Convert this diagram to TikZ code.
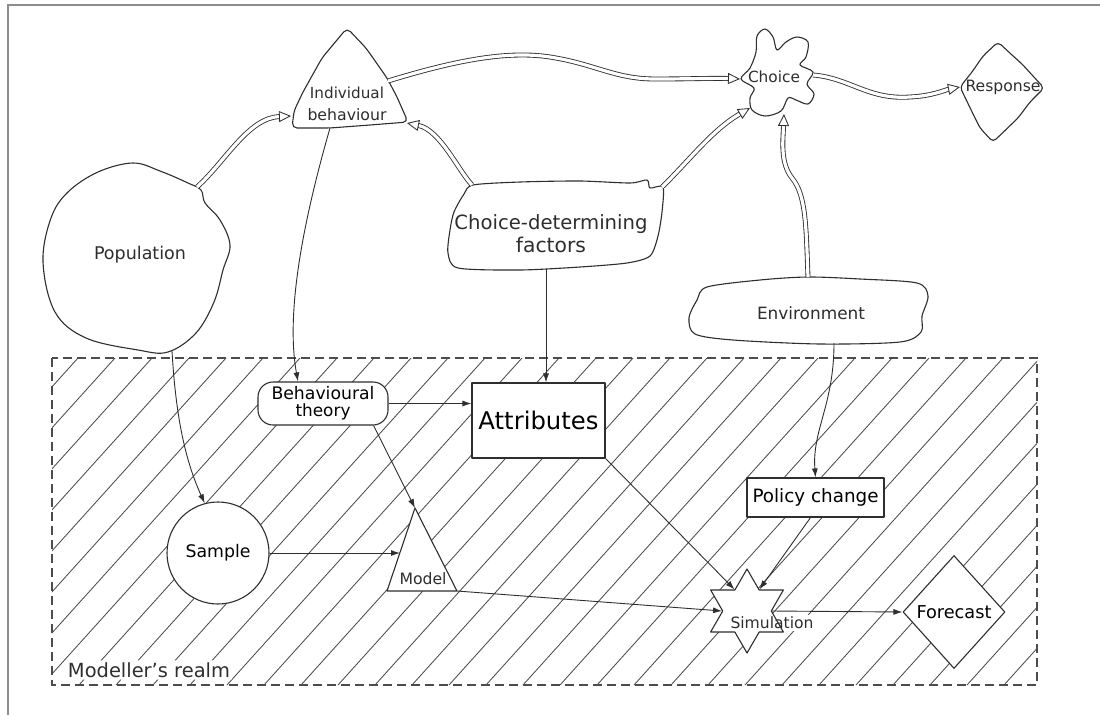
\documentclass[tikz,border=0pt]{standalone}
\usepackage{fontspec}
\usepackage{graphicx}
\setmainfont{DejaVu Sans}
\usetikzlibrary{arrows.meta,shapes.geometric}
\pgfdeclarelayer{background}
\pgfsetlayers{background,main}
% set a label to an exact printed width
\newcommand{\fitto}[2]{\resizebox{#1pt}{!}{#2}}
\tikzset{
  ink/.style={draw=black!82, line width=1.1pt, line join=round},
  blob/.style={ink, fill=white},
  lab/.style={inner sep=0pt, text=black!82},
  box/.style={ink, fill=white, inner sep=0pt},
  twin/.style={draw=black!82, line width=0.85pt, double=white, double distance=3.2pt,
     -{Triangle[open, length=12pt, width=11pt]}},
  flow/.style={draw=black!82, line width=0.9pt, -{Latex[length=9pt, width=6pt]}},
  hatchline/.style={draw=black!70, line width=0.85pt},
}
\begin{document}
\begin{tikzpicture}[x=1pt, y=-1pt]
\useasboundingbox (0,0) rectangle (1100,715);
% page rules
\draw[black!45, line width=1.4pt] (8,715) -- (8,5) -- (1100,5);

% ---------- the world outside ----------
\draw[blob] plot[smooth cycle, tension=0.6] coordinates {(133,163) (160,171) (188,183) (201,190) (205,203) (220,220) (230,245) (223,270) (214,302) (196,333) (168,352) (138,350) (86,338) (55,312) (43,262) (51,218) (68,192) (98,172)};
\node[lab] (pop) at (140,255) {\fitto{92}{Population}};

\draw[blob, rounded corners=5pt] (347,28) -- (366,48) -- (387,78) -- (397,97) -- (408,122) -- (370,125) -- (330,128) -- (292,128) -- (294,111) -- (303,92) -- (322,58) -- cycle;
\node[lab, align=center, font=\fontsize{10}{22}\selectfont] (ind) at (347,104) {\fitto{74}{Individual}\\\fitto{79}{behaviour}};

\draw[blob] plot[smooth cycle, tension=0.55] coordinates {(741,79) (750,68) (756,52) (757,36) (765,29) (773,37) (777,50) (786,42) (797,37) (808,42) (806,57) (800,65) (813,72) (807,84) (814,94) (808,104) (796,100) (788,98) (781,111) (765,116) (752,110) (750,98) (754,88)};
\node[lab] (cho) at (774,77) {\fitto{52}{Choice}};

\draw[blob, rounded corners=4pt] (998,42) -- (1012,55) -- (1022,64) -- (1044,88) -- (1030,102) -- (1018,118) -- (993,142) -- (980,128) -- (975,118) -- (960,87) -- (972,72) -- (983,56) -- cycle;
\node[lab] (res) at (1003,87) {\fitto{75}{Response}};

\draw[blob] plot[smooth cycle, tension=0.45] coordinates {(473,185) (520,182) (580,181) (630,183) (647,180) (650,188) (663,187) (662,212) (658,236) (650,256) (627,263) (580,267) (520,270) (458,268) (448,253) (450,230) (454,212) (464,194)};
\node[lab, align=center, font=\fontsize{10}{23}\selectfont] (cdf) at (551,234) {\fitto{193}{Choice-determining}\\\fitto{70}{factors}};

\draw[blob] plot[smooth cycle, tension=0.5] coordinates {(707,287) (760,280) (808,277) (860,279) (917,283) (928,296) (922,316) (921,332) (900,342) (820,344) (733,340) (695,334) (689,318) (697,300)};
\node[lab] (env) at (811,313) {\fitto{108}{Environment}};

% ---------- the modeller's realm ----------
\draw[draw=black!70, line width=1.4pt, dash pattern=on 9pt off 5pt] (52,358) rectangle (1037,685);

\node[box, rounded corners=15pt, minimum width=130pt, minimum height=43pt, align=center, font=\fontsize{10}{17}\selectfont] (theory) at (323,403.5) {\fitto{103}{Behavioural}\\\fitto{55}{theory}};
\node[box, minimum width=133pt, minimum height=75pt] (attr) at (538.5,420.5) {\fitto{120}{Attributes}};
\node[box, circle, minimum size=102pt] (sample) at (218,553) {\fitto{65}{Sample}};
\draw[ink, fill=white] (415,508) -- (457,591) -- (387,591) -- cycle;
\node[lab] (model) at (423,579) {\fitto{47}{Model}};
\node[box, minimum width=137pt, minimum height=39pt] (policy) at (815.5,497.5) {\fitto{126}{Policy change}};
\node[box, star, star points=6, star point ratio=1.73, minimum size=84pt] (sim) at (747,611) {};
\node[lab, inner sep=2pt] (simtext) at (772,623) {\fitto{83}{Simulation}};
\node[box, diamond, minimum width=102pt, minimum height=113pt] (fc) at (954,612) {\fitto{75}{Forecast}};
\node[lab, inner sep=2pt] (realm) at (149,670) {\fitto{162}{Modeller's realm}};

% ---------- connector ends on irregular outlines ----------
\coordinate (pop-ne) at (197,187);
\coordinate (pop-s) at (172,351);
\coordinate (ind-w) at (291,116);
\coordinate (ind-e) at (388,81);
\coordinate (ind-se) at (407,123);
\coordinate (ind-s) at (330,128);
\coordinate (cho-w) at (740,79);
\coordinate (cho-sw) at (750,108);
\coordinate (cho-s) at (784,114);
\coordinate (cho-e) at (813,75);
\coordinate (res-w) at (960,87);
\coordinate (cdf-nw) at (472,185);
\coordinate (cdf-ne) at (662,187);
\coordinate (cdf-s) at (546,269);
\coordinate (env-n) at (808,277);
\coordinate (env-s) at (834,343);
\coordinate (model-top) at (415,508);
\coordinate (model-w) at (400,553);
\coordinate (model-e) at (457,591);

% ---------- real-world influences ----------
\draw[twin] (pop-ne) .. controls (225,162) and (248,118) .. (ind-w);
\draw[twin] (ind-e) .. controls (450,62) and (505,50) .. (550,57) .. controls (595,64) and (615,79) .. (655,79) .. controls (690,79) and (715,78) .. (cho-w);
\draw[twin] (cdf-nw) .. controls (458,170) and (440,130) .. (ind-se);
\draw[twin] (cdf-ne) .. controls (688,162) and (712,130) .. (cho-sw);
\draw[twin] (env-n) .. controls (806,225) and (806,195) .. (792,178) .. controls (780,163) and (783,140) .. (cho-s);
\draw[twin] (cho-e) .. controls (850,78) and (868,100) .. (910,97) .. controls (932,96) and (945,90) .. (res-w);

% ---------- modelling steps ----------
\draw[flow] (ind-s) .. controls (305,215) and (285,310) .. ([xshift=-25pt]theory.north);
\draw[flow] (pop-s) .. controls (176,420) and (186,462) .. (sample.105);
\draw[flow] (cdf-s) -- (cdf-s |- attr.north);
\draw[flow] (env-s) .. controls (834,405) and (812,430) .. (policy.north);
\draw[flow] (theory.east) -- (theory.east -| attr.west);
\draw[flow] ([xshift=-15pt]theory.south east) -- (model-top);
\draw[flow] (sample.east) -- (model-w);
\draw[flow] (model-e) -- (sim.180);
\draw[flow] (attr.south east) -- (sim.120);
\draw[flow] ([xshift=-5pt]policy.south) -- (sim.60);
\draw[flow] (sim.0) -- (fc.west);

% ---------- hatching of the realm ----------
\begin{pgfonlayer}{background}
\begin{scope}[even odd rule]
\clip (52,358) rectangle (1037,685)
  (simtext.south west) rectangle (simtext.north east)
  (realm.south west) rectangle (realm.north east);
\foreach \k in {-9,...,27} \draw[hatchline] ({79+37*\k},685) -- ++(295,-327);
\end{scope}
\end{pgfonlayer}
\end{tikzpicture}
\end{document}
